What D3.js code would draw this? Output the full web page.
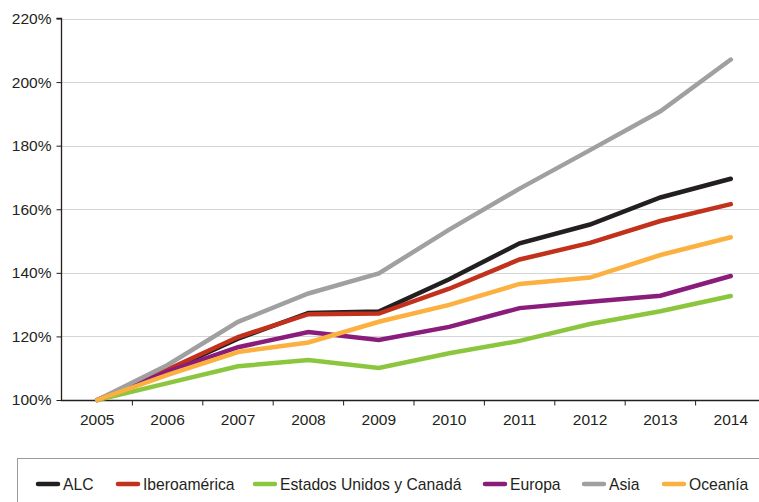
<!DOCTYPE html>
<html>
<head>
<meta charset="utf-8">
<script src="https://cdn.jsdelivr.net/npm/d3@7"></script>
<style>
  html, body { margin: 0; padding: 0; background: #fff; }
  svg { display: block; font-family: "Liberation Sans", Arial, sans-serif; }
</style>
</head>
<body>
<svg id="chart" width="759" height="502"></svg>
<script>
// Years on the horizontal axis
const years = ["2005", "2006", "2007", "2008", "2009", "2010", "2011", "2012", "2013", "2014"];

// Index values (2005 = 100%)
const alc          = [100, 109.2, 119.3, 127.4, 127.8, 138.0, 149.3, 155.2, 163.7, 169.6];
const iberoamerica = [100, 109.6, 119.8, 127.0, 127.2, 135.0, 144.2, 149.4, 156.3, 161.6];
const eeuuCanada   = [100, 105.3, 110.6, 112.6, 110.1, 114.7, 118.6, 123.9, 127.9, 132.7];
const europa       = [100, 108.9, 116.6, 121.4, 118.9, 123.0, 128.9, 130.9, 132.8, 139.0];
const asia         = [100, 111.0, 124.6, 133.5, 139.8, 153.6, 166.5, 178.6, 190.8, 207.1];
const oceania      = [100, 107.9, 115.1, 118.1, 124.6, 129.9, 136.5, 138.5, 145.6, 151.2];

// Series names and colours, in legend order
const seriesNames  = ["ALC", "Iberoamérica", "Estados Unidos y Canadá", "Europa", "Asia", "Oceanía"];
const seriesColors = ["#231f20", "#c1311b", "#8cc63e", "#8a1c7c", "#a0a0a2", "#fbb03f"];
const seriesValues = [alc, iberoamerica, eeuuCanada, europa, asia, oceania];

// Y-axis ticks
const yTicks = [100, 120, 140, 160, 180, 200, 220];

const FONT = "'Liberation Sans', Arial, sans-serif";
const svg = d3.select("#chart");

const x = d3.scaleBand().domain(years).range([62, 766]).padding(0);
const y = d3.scaleLinear().domain([100, 220]).range([400, 18.5]);

// Horizontal gridlines
svg.append("g")
  .selectAll("line")
  .data(yTicks.filter(t => t > 100))
  .join("line")
  .attr("x1", 62).attr("x2", 759)
  .attr("y1", d => Math.round(y(d)) + 0.5)
  .attr("y2", d => Math.round(y(d)) + 0.5)
  .attr("stroke", "#d4d4d4")
  .attr("stroke-width", 1.2);

// Y axis
const yAxis = svg.append("g")
  .attr("transform", "translate(61.5,0)")
  .call(d3.axisLeft(y).tickValues(yTicks).tickFormat(d => d + "%").tickSize(5).tickPadding(5));
yAxis.select(".domain").attr("stroke", "#231f20").attr("stroke-width", 1.3).attr("d", `M-5,${y(220)}H0V${y(100)}`);
yAxis.selectAll(".tick line").attr("stroke", "#231f20");
yAxis.selectAll(".tick text")
  .attr("font-size", 15.5)
  .attr("font-family", FONT)
  .attr("fill", "#231f20");

// X axis with ticks between categories
const xAxis = svg.append("g")
  .attr("transform", "translate(0,400.5)")
  .call(d3.axisBottom(x).tickSize(0).tickPadding(13));
xAxis.select(".domain").attr("stroke", "#231f20").attr("stroke-width", 1.3).attr("d", "M61,0H759");
xAxis.selectAll(".tick text")
  .attr("font-size", 15.5)
  .attr("font-family", FONT)
  .attr("fill", "#231f20");
svg.append("g")
  .selectAll("line")
  .data(years.slice(1))
  .join("line")
  .attr("x1", d => x(d)).attr("x2", d => x(d))
  .attr("y1", 400).attr("y2", 405.5)
  .attr("stroke", "#231f20").attr("stroke-width", 1);

// Series lines
const line = d3.line()
  .x((d, i) => x(years[i]) + x.bandwidth() / 2)
  .y(d => y(d));

svg.append("g")
  .selectAll("path")
  .data(seriesValues)
  .join("path")
  .attr("d", d => line(d))
  .attr("fill", "none")
  .attr("stroke", (d, i) => seriesColors[i])
  .attr("stroke-width", 4.5)
  .attr("stroke-linecap", "round")
  .attr("stroke-linejoin", "miter");

// Legend box
svg.append("rect")
  .attr("x", 17.5).attr("y", 458.5)
  .attr("width", 760).attr("height", 60)
  .attr("fill", "none")
  .attr("stroke", "#9a9a9a")
  .attr("stroke-width", 1);

// Legend entries: label start positions along the box
const legendTextX = [63, 143, 280, 510, 609, 689];
const legend = svg.append("g");
seriesNames.forEach((name, i) => {
  const tx = legendTextX[i];
  const item = legend.append("g");
  item.append("line")
    .attr("x1", tx - 25).attr("x2", tx - 5)
    .attr("y1", 484).attr("y2", 484)
    .attr("stroke", seriesColors[i])
    .attr("stroke-width", 4.5)
    .attr("stroke-linecap", "round");
  item.append("text")
    .attr("x", tx).attr("y", 489.5)
    .attr("font-size", 15.7)
    .attr("font-family", FONT)
    .attr("fill", "#231f20")
    .text(name);
});
</script>
</body>
</html>
